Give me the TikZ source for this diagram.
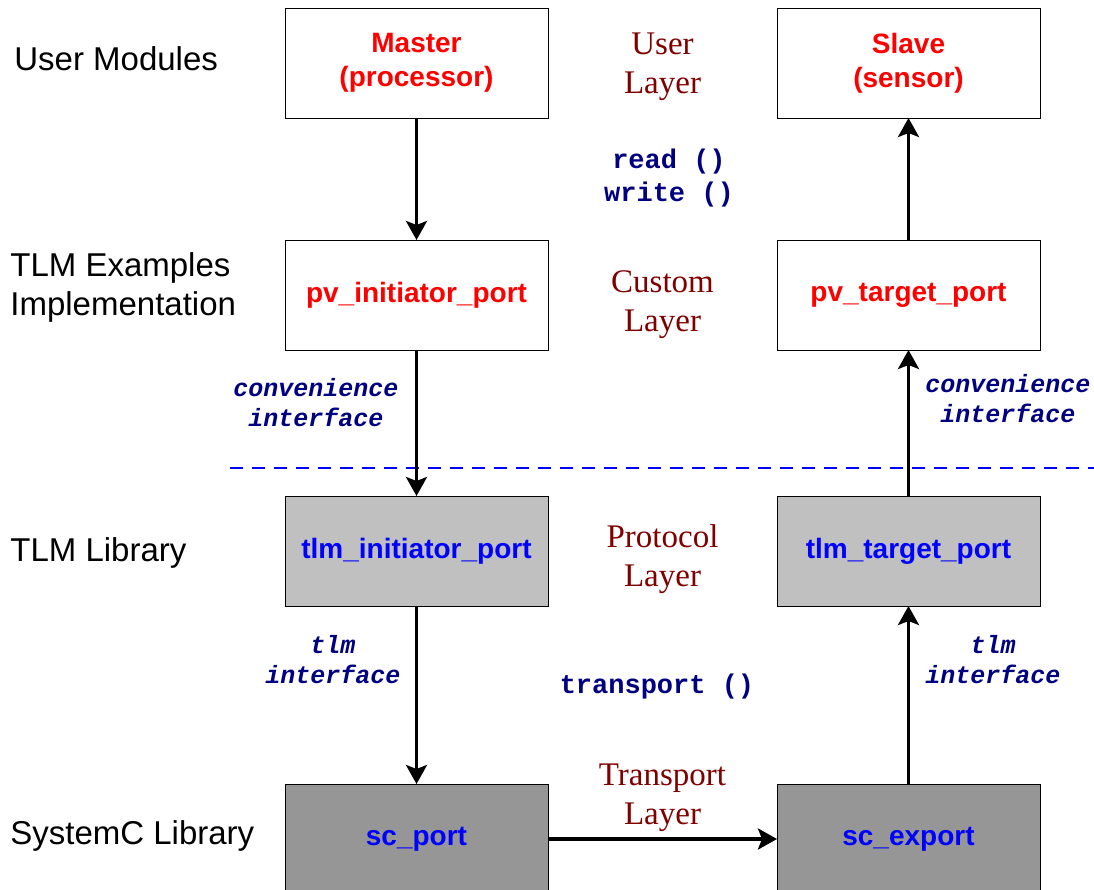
\documentclass[tikz,border=0pt]{standalone}
\usepackage{fontspec}
\setmainfont{Liberation Serif}
\setsansfont{Liberation Sans}
\setmonofont{Liberation Mono}
\usetikzlibrary{positioning, calc, arrows.meta}
\definecolor{layerred}{HTML}{800000}
\definecolor{callblue}{HTML}{000080}
\definecolor{protogray}{HTML}{C0C0C0}
\definecolor{transgray}{HTML}{969696}

\begin{document}
\begin{tikzpicture}[x=0.5pt,y=-0.5pt,
  box/.style={draw, line width=0.5pt, minimum width=131.5pt, minimum height=55pt, inner sep=0pt, outer sep=0pt, align=center, font=\sffamily\bfseries\fontsize{14}{17}\selectfont},
  userbox/.style={box, fill=white, text=red},
  protobox/.style={box, fill=protogray, text=blue},
  transbox/.style={box, fill=transgray, text=blue},
  layer/.style={align=center, text=layerred, font=\rmfamily\fontsize{16.5}{19.5}\selectfont},
  call/.style={align=center, text=callblue, font=\ttfamily\bfseries\fontsize{13.5}{16.5}\selectfont},
  iface/.style={align=center, text=callblue, font=\ttfamily\bfseries\itshape\fontsize{12.5}{15}\selectfont},
  level/.style={anchor=west, align=left, inner sep=0pt, font=\sffamily\fontsize{16.5}{19.5}\selectfont},
  link/.style={line width=1.6pt, -{Stealth[length=9.5pt,width=10.5pt,inset=2pt]}},
  divider/.style={blue, line width=1pt, dash pattern=on 6.5pt off 4.5pt}]
\useasboundingbox (0,0) rectangle (1094,890);

% boxes
\node[userbox] (Master) at (416.5,63) {Master\\(processor)};
\node[userbox, right=114.5pt of Master] (Slave) {Slave\\(sensor)};
\node[userbox, below=61pt of Master] (PvInit) {pv\_initiator\_port};
\node[userbox, below=61pt of Slave] (PvTarget) {pv\_target\_port};
\node[protobox, below=73pt of PvInit] (TlmInit) {tlm\_initiator\_port};
\node[protobox, below=73pt of PvTarget] (TlmTarget) {tlm\_target\_port};
\node[transbox, below=89pt of TlmInit] (ScPort) {sc\_port};
\node[transbox, below=89pt of TlmTarget] (ScExport) {sc\_export};

% levels on the left
\node[level] (UserMod) at (14,59) {User Modules};
\node[level] (TlmEx) at (10,287) {TLM Examples\\Implementation};
\node[level] (TlmLib) at (10,553) {TLM Library};
\node[level] (ScLib) at (10,836) {SystemC Library};

% layers
\node[layer, yshift=-2pt] (UserLayer) at ($(Master.east)!0.5!(Slave.west)$) {User\\Layer};
\node[layer, yshift=-5pt] (CustomLayer) at ($(PvInit.east)!0.5!(PvTarget.west)$) {Custom\\Layer};
\node[layer, yshift=-4pt] (ProtoLayer) at ($(TlmInit.east)!0.5!(TlmTarget.west)$) {Protocol\\Layer};
\node[layer, yshift=20.5pt] (TransLayer) at ($(ScPort.east)!0.5!(ScExport.west)$) {Transport\\Layer};

% calls and interfaces
\node[call] (ReadWrite) at (669,178) {read ()\\write ()};
\node[call] (Transport) at (657,687) {transport ()};
\node[iface] (ConvL) at (316,403) {convenience\\interface};
\node[iface] (ConvR) at (1008,399) {convenience\\interface};
\node[iface] (TlmIfL) at (333,660) {tlm\\interface};
\node[iface] (TlmIfR) at (993,660) {tlm\\interface};

% divider
\coordinate (DashL) at (230,468);
\coordinate (DashR) at (1094,468);
\draw[divider] (DashL) -- (DashR);

% arrows
\draw[link] (Master) -- (PvInit);
\draw[link] (PvInit) -- (TlmInit);
\draw[link] (TlmInit) -- (ScPort);
\draw[link] (ScPort) -- (ScExport);
\draw[link] (ScExport) -- (TlmTarget);
\draw[link] (TlmTarget) -- (PvTarget);
\draw[link] (PvTarget) -- (Slave);
\end{tikzpicture}
\end{document}
